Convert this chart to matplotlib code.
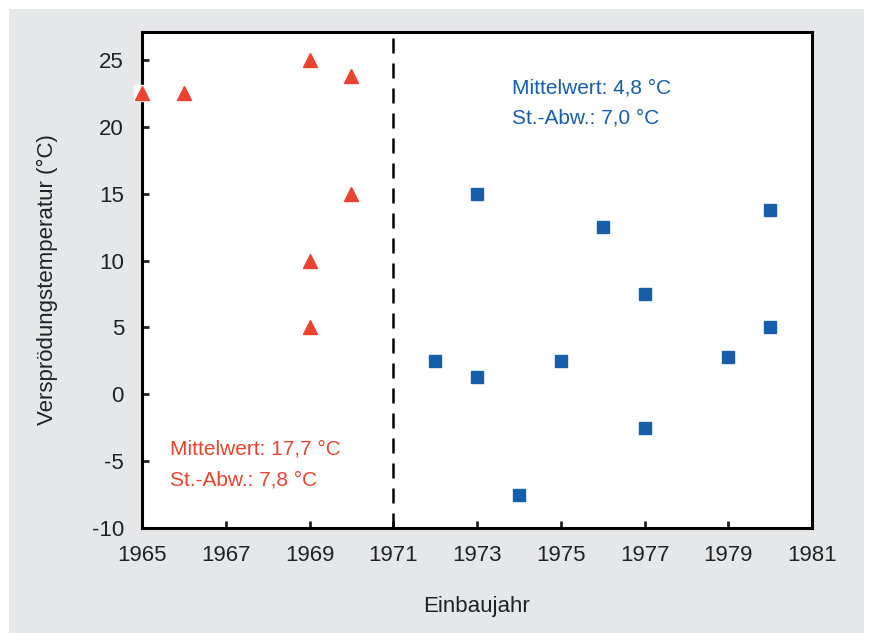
import matplotlib.pyplot as plt
from matplotlib.patches import Rectangle

plt.rcParams['font.family'] = ['Liberation Sans Narrow', 'Liberation Sans', 'DejaVu Sans']
plt.rcParams['axes.unicode_minus'] = False

# Rote Dreiecke (vor 1971)
red_x = [1965, 1966, 1969, 1970, 1970, 1969, 1969]
red_y = [22.5, 22.5, 25.0, 23.8, 15.0, 10.0, 5.0]

# Blaue Quadrate (nach 1971)
blue_x = [1972, 1973, 1973, 1974, 1975, 1976, 1977, 1977, 1979, 1980, 1980]
blue_y = [2.5, 15.0, 1.3, -7.5, 2.5, 12.5, 7.5, -2.5, 2.8, 13.8, 5.0]

x_ticks = [1965, 1967, 1969, 1971, 1973, 1975, 1977, 1979, 1981]
y_ticks = [-10, -5, 0, 5, 10, 15, 20, 25]

red = '#ea4330'
blue = '#165ea9'

fig = plt.figure(figsize=(8.7, 6.33), dpi=100, facecolor='white')
fig.add_artist(Rectangle((9 / 870, 0), (864 - 9) / 870, 1 - 9 / 633,
                         transform=fig.transFigure, facecolor='#e6e7e9',
                         edgecolor='none', zorder=-10))

ax = fig.add_axes([142 / 870, 1 - 528 / 633, 670 / 870, 496 / 633])
ax.set_facecolor('white')

ax.plot(red_x[0], red_y[0], 's', color='white', ms=11, clip_on=False, zorder=3)
ax.plot(red_x, red_y, '^', color=red, ms=10, clip_on=False, zorder=4, linestyle='none')
ax.plot(blue_x, blue_y, 's', color=blue, ms=8.5, clip_on=False, zorder=4, linestyle='none')

ax.axvline(1971, color='black', lw=1.8, dashes=(6, 4))

ax.text(1965.67, -4.1, 'Mittelwert: 17,7 °C', color=red, fontsize=15, va='center')
ax.text(1965.67, -6.4, 'St.-Abw.: 7,8 °C', color=red, fontsize=15, va='center')
ax.text(1973.84, 22.9, 'Mittelwert: 4,8 °C', color=blue, fontsize=15, va='center')
ax.text(1973.84, 20.7, 'St.-Abw.: 7,0 °C', color=blue, fontsize=15, va='center')

ax.set_xlim(1965, 1981)
ax.set_ylim(-10, 27.1)
ax.set_xticks(x_ticks)
ax.set_yticks(y_ticks)
ax.tick_params(direction='in', length=5, width=2, labelsize=16, pad=13,
               colors='#222222')
ax.tick_params(axis='x', pad=12)
for s in ax.spines.values():
    s.set_linewidth(2.2)

ax.set_xlabel('Einbaujahr', fontsize=16, labelpad=22, color='#222222')
ax.set_ylabel('Versprödungstemperatur (°C)', fontsize=16, labelpad=24, color='#222222')

fig.savefig('out.png', dpi=100, facecolor=fig.get_facecolor())
